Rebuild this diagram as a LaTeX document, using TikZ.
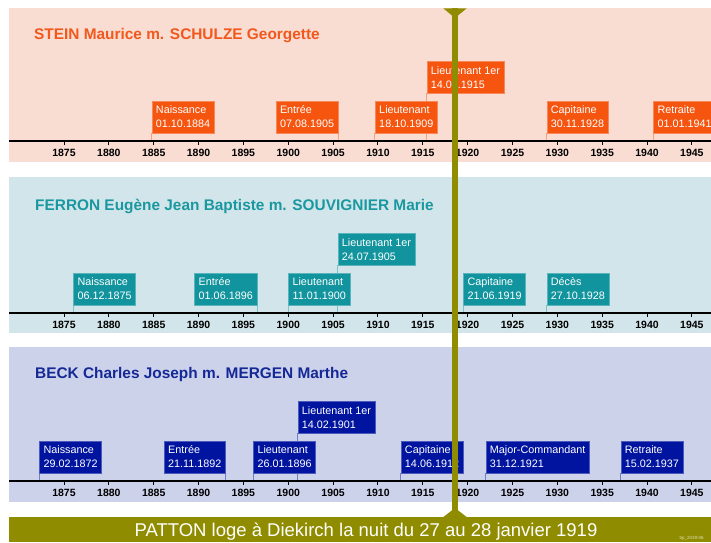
\documentclass[tikz,border=0pt]{standalone}
\usepackage{fontspec}
\setmainfont{Liberation Sans}

\definecolor{steinbg}{RGB}{249,220,210}
\definecolor{steinfg}{RGB}{242,88,28}
\definecolor{steinev}{RGB}{245,85,15}
\definecolor{ferronbg}{RGB}{210,229,234}
\definecolor{ferronfg}{RGB}{26,152,160}
\definecolor{ferronev}{RGB}{18,148,158}
\definecolor{beckbg}{RGB}{205,210,235}
\definecolor{beckfg}{RGB}{20,40,150}
\definecolor{beckev}{RGB}{0,20,160}
\definecolor{pattonol}{RGB}{143,140,0}

\pgfdeclarelayer{back}
\pgfdeclarelayer{marks}
\pgfsetlayers{back,marks,main}

% year -> x position (1 unit = 1pt)
\newcommand{\yx}[1]{64+(#1-1875)*8.97}

\tikzset{
    event/.style={text=white, align=left, inner xsep=4pt, inner ysep=4pt,
        minimum height=31.6pt, line width=0.5pt,
        font=\fontsize{10.8}{14}\selectfont},
    lowev/.style={yshift=7.7pt},   % box just above the axis
    highev/.style={yshift=47.4pt}, % second row
    steinbox/.style={event, fill=steinev, draw=steinev!70!white},
    ferronbox/.style={event, fill=ferronev, draw=ferronev!70!white},
    beckbox/.style={event, fill=beckev, draw=beckev!70!white},
    steinline/.style={draw=steinev!55!white, line width=1pt},
    ferronline/.style={draw=ferronev!55!white, line width=1pt},
    beckline/.style={draw=beckev!55!white, line width=1pt},
    bandtitle/.style={anchor=base west, inner sep=0pt, font=\bfseries\fontsize{15.4}{18}\selectfont},
    yearlbl/.style={anchor=base, inner sep=0pt, font=\bfseries\fontsize{10.5}{12}\selectfont},
    axisline/.style={line width=2pt},
    tickline/.style={line width=1pt},
}

\begin{document}
\begin{tikzpicture}[x=1pt, y=-1pt]
\useasboundingbox (0,0) rectangle (711,542);
\clip (0,0) rectangle (711,542);

% bands
\begin{pgfonlayer}{back}
    \fill[steinbg] (9,8.3) rectangle (711,161.7);
    \fill[ferronbg] (9,176.7) rectangle (711,332.7);
    \fill[beckbg] (9,347.3) rectangle (711,502.3);
\end{pgfonlayer}

\node[bandtitle, text=steinfg] (stitle) at (34,39.3) {STEIN Maurice m. SCHULZE Georgette};
\node[bandtitle, text=ferronfg] (ftitle) at (35,210.3) {FERRON Eugène Jean Baptiste m. SOUVIGNIER Marie};
\node[bandtitle, text=beckfg] (btitle) at (35,378.3) {BECK Charles Joseph m. MERGEN Marthe};

% time axes
\foreach \ax/\nm in {140.7/s, 312.7/f, 480.7/b} {
    \draw[axisline] (9,\ax) -- (711,\ax);
    \foreach \yr in {1875,1880,...,1945} {
        \draw[tickline] ({\yx{\yr}},\ax) -- ++(0,4);
        \node[yearlbl] (\nm y\yr) at ({\yx{\yr}},{\ax+15.3}) {\yr};
    }
}

% STEIN
\coordinate (s1d) at ({\yx{1884.78}},140.7);
\coordinate (s2d) at ({\yx{1905.58}},140.7);
\coordinate (s3d) at ({\yx{1909.67}},140.7);
\coordinate (s4d) at ({\yx{1915.43}},140.7);
\coordinate (s5d) at ({\yx{1928.81}},140.7);
\coordinate (s6d) at ({\yx{1940.70}},140.7);
\node[steinbox, lowev, anchor=south west] (s1) at (s1d) {Naissance\\01.10.1884};
\node[steinbox, lowev, anchor=south east] (s2) at (s2d) {Entrée\\07.08.1905};
\node[steinbox, lowev, anchor=south west] (s3) at (s3d) {Lieutenant\\18.10.1909};
\node[steinbox, highev, anchor=south west] (s4) at (s4d) {Lieutenant 1er\\14.06.1915};
\node[steinbox, lowev, anchor=south west] (s5) at (s5d) {Capitaine\\30.11.1928};
\node[steinbox, lowev, anchor=south west] (s6) at (s6d) {Retraite\\01.01.1941};

% FERRON
\coordinate (f1d) at ({\yx{1876.04}},312.7);
\coordinate (f2d) at ({\yx{1896.52}},312.7);
\coordinate (f3d) at ({\yx{1900.01}},312.7);
\coordinate (f4d) at ({\yx{1905.51}},312.7);
\coordinate (f5d) at ({\yx{1919.52}},312.7);
\coordinate (f6d) at ({\yx{1928.81}},312.7);
\node[ferronbox, lowev, anchor=south west] (f1) at (f1d) {Naissance\\06.12.1875};
\node[ferronbox, lowev, anchor=south east] (f2) at (f2d) {Entrée\\01.06.1896};
\node[ferronbox, lowev, anchor=south west] (f3) at (f3d) {Lieutenant\\11.01.1900};
\node[ferronbox, highev, anchor=south west] (f4) at (f4d) {Lieutenant 1er\\24.07.1905};
\node[ferronbox, lowev, anchor=south west] (f5) at (f5d) {Capitaine\\21.06.1919};
\node[ferronbox, lowev, anchor=south west] (f6) at (f6d) {Décès\\27.10.1928};

% BECK
\coordinate (b1d) at ({\yx{1872.25}},480.7);
\coordinate (b2d) at ({\yx{1893.03}},480.7);
\coordinate (b3d) at ({\yx{1896.10}},480.7);
\coordinate (b4d) at ({\yx{1901.05}},480.7);
\coordinate (b5d) at ({\yx{1912.54}},480.7);
\coordinate (b6d) at ({\yx{1922.01}},480.7);
\coordinate (b7d) at ({\yx{1937.06}},480.7);
\node[beckbox, lowev, anchor=south west] (b1) at (b1d) {Naissance\\29.02.1872};
\node[beckbox, lowev, anchor=south east] (b2) at (b2d) {Entrée\\21.11.1892};
\node[beckbox, lowev, anchor=south west] (b3) at (b3d) {Lieutenant\\26.01.1896};
\node[beckbox, highev, anchor=south west] (b4) at (b4d) {Lieutenant 1er\\14.02.1901};
\node[beckbox, lowev, anchor=south west] (b5) at (b5d) {Capitaine\\14.06.1912};
\node[beckbox, lowev, anchor=south west] (b6) at (b6d) {Major-Commandant\\31.12.1921};
\node[beckbox, lowev, anchor=south west] (b7) at (b7d) {Retraite\\15.02.1937};

% date markers, under the boxes
\begin{pgfonlayer}{marks}
    \draw[steinline] (s1.south west) -- (s1d);
    \draw[steinline] (s2.south east) -- (s2d);
    \draw[steinline] (s3.south west) -- (s3d);
    \draw[steinline] (s4.south west) -- (s4d);
    \draw[steinline] (s5.south west) -- (s5d);
    \draw[steinline] (s6.south west) -- (s6d);
    \draw[ferronline] (f1.south west) -- (f1d);
    \draw[ferronline] (f2.south east) -- (f2d);
    \draw[ferronline] (f3.south west) -- (f3d);
    \draw[ferronline] (f4.south west) -- (f4d);
    \draw[ferronline] (f5.south west) -- (f5d);
    \draw[ferronline] (f6.south west) -- (f6d);
    \draw[beckline] (b1.south west) -- (b1d);
    \draw[beckline] (b2.south east) -- (b2d);
    \draw[beckline] (b3.south west) -- (b3d);
    \draw[beckline] (b4.south west) -- (b4d);
    \draw[beckline] (b5.south west) -- (b5d);
    \draw[beckline] (b6.south west) -- (b6d);
    \draw[beckline] (b7.south west) -- (b7d);
\end{pgfonlayer}

% PATTON
\fill[pattonol] (9,517) rectangle (711,542);
\coordinate (ptop) at (455,8.3);
\coordinate (pbot) at (455,517);
\draw[pattonol, line width=6.5pt] (ptop) -- (pbot);
\fill[pattonol] (443.3,8.3) -- (466.7,8.3) -- (455,18) -- cycle;
\fill[pattonol] (443.3,517) -- (466.7,517) -- (455,508) -- cycle;
\node[anchor=base, text=white, font=\fontsize{18.5}{21}\selectfont] (patton) at (366,536.7)
    {PATTON loge à Diekirch la nuit du 27 au 28 janvier 1919};
\node[anchor=base west, inner sep=0pt, text=white!75!pattonol, font=\fontsize{4.5}{5}\selectfont] (sig) at (679.5,539.5) {bp\_2019-06};
\end{tikzpicture}
\end{document}
